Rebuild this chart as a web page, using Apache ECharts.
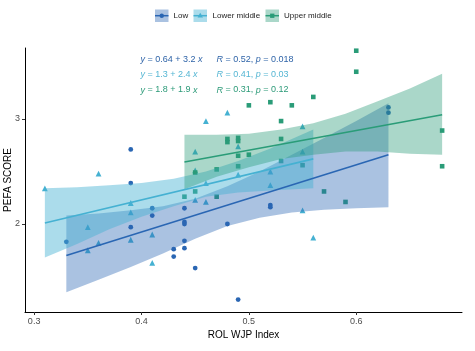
<!DOCTYPE html>
<html><head><meta charset="utf-8">
<script src="https://cdn.jsdelivr.net/npm/echarts@6/dist/echarts.min.js"></script>
<style>html,body{margin:0;padding:0;background:#fff}#c{width:475px;height:351px}</style>
</head><body><div id="c"></div>
<script>
// ---- data ----
const groupNames = ['Low', 'Lower middle', 'Upper middle'];
const xTicks = [0.3, 0.4, 0.5, 0.6];
const xTickLabels = ['0.3', '0.4', '0.5', '0.6'];
const yTicks = [2, 3];
const yTickLabels = ['2', '3'];

const lowPoints = [[0.33,1.83],[0.39,2.71],[0.39,2.39],[0.39,1.97],[0.41,2.15],[0.41,2.08],[0.43,1.76],[0.43,1.69],[0.44,2.15],[0.44,2.02],[0.44,2.00],[0.44,1.84],[0.44,1.77],[0.45,1.58],[0.48,2.00],[0.49,1.28],[0.52,2.18],[0.52,2.16],[0.63,3.11],[0.63,3.06]];
const lowerMiddlePoints = [[0.31,2.34],[0.36,2.48],[0.35,1.97],[0.36,1.82],[0.35,1.75],[0.39,2.20],[0.39,2.11],[0.39,1.85],[0.41,1.90],[0.41,1.63],[0.45,2.69],[0.45,2.51],[0.45,2.23],[0.46,2.98],[0.46,2.39],[0.46,2.21],[0.48,3.06],[0.49,2.74],[0.49,2.47],[0.52,2.50],[0.52,2.37],[0.55,2.93],[0.55,2.69],[0.55,2.13],[0.56,1.87]];
const upperMiddlePoints = [[0.44,2.26],[0.45,2.49],[0.45,2.31],[0.47,2.52],[0.47,2.26],[0.48,2.81],[0.48,2.78],[0.49,2.82],[0.49,2.79],[0.49,2.65],[0.49,2.55],[0.50,3.13],[0.50,2.66],[0.52,3.16],[0.53,2.98],[0.53,2.81],[0.53,2.60],[0.54,3.13],[0.55,2.56],[0.56,3.21],[0.57,2.31],[0.59,2.21],[0.60,3.65],[0.60,3.45],[0.68,2.89],[0.68,2.55]];

// fitted lines (end points)
const lowLine = [[0.33,1.70],[0.63,2.66]];
const lowerMiddleLine = [[0.31,2.01],[0.56,2.62]];
const upperMiddleLine = [[0.44,2.59],[0.68,3.04]];

// confidence bands
const lowBandX = [0.33,0.36,0.39,0.42,0.45,0.48,0.51,0.54,0.57,0.60,0.63];
const lowBandLo = [1.35,1.47,1.59,1.72,1.86,1.98,2.06,2.11,2.135,2.15,2.16];
const lowBandHi = [2.08,2.10,2.13,2.17,2.24,2.36,2.50,2.66,2.82,2.98,3.15];
const lowerMiddleBandX = [0.31,0.34,0.37,0.40,0.43,0.46,0.49,0.52,0.56];
const lowerMiddleBandLo = [1.68,1.81,1.95,2.07,2.17,2.26,2.30,2.32,2.34];
const lowerMiddleBandHi = [2.34,2.35,2.37,2.39,2.43,2.50,2.60,2.72,2.90];
const upperMiddleBandX = [0.44,0.47,0.50,0.53,0.56,0.59,0.62,0.65,0.68];
const upperMiddleBandLo = [2.33,2.45,2.54,2.62,2.66,2.69,2.69,2.67,2.66];
const upperMiddleBandHi = [2.85,2.85,2.86,2.90,2.96,3.05,3.17,3.29,3.43];

const equations = ['{i|y} = 0.64 + 3.2 {i|x}', '{i|y} = 1.3 + 2.4 {i|x}', '{i|y} = 1.8 + 1.9 {i|x}'];
const stats = ['{i|R} = 0.52, {i|p} = 0.018', '{i|R} = 0.41, {i|p} = 0.03', '{i|R} = 0.31, {i|p} = 0.12'];

// ---- styles ----
const lineColors = ['#2a66b3', '#45b1d2', '#2a9c78'];
const bandColors = ['rgba(42,102,179,0.4)', 'rgba(69,177,210,0.45)', 'rgba(42,156,120,0.4)'];
const symbols = ['circle', 'triangle', 'rect'];
const symSizes = [4.8, 5.8, 4.6];
const FONT = '"Liberation Sans", Arial, sans-serif';

function bandSeries(name, xs, lo, hi, fill) {
  const data = xs.map((x, i) => [x, lo[i], hi[i]]);
  return {
    type: 'custom', name: name + ' band', z: 3, silent: true, data,
    encode: { x: 0, y: [1, 2] },
    renderItem(params, api) {
      if (params.dataIndex !== 0) return null;
      const up = data.map(d => api.coord([d[0], d[2]]));
      const dn = data.slice().reverse().map(d => api.coord([d[0], d[1]]));
      return { type: 'polygon', shape: { points: up.concat(dn) }, style: { fill: fill } };
    }
  };
}

const pointSets = [lowPoints, lowerMiddlePoints, upperMiddlePoints];
const lineSets = [lowLine, lowerMiddleLine, upperMiddleLine];
const bands = [
  [lowBandX, lowBandLo, lowBandHi],
  [lowerMiddleBandX, lowerMiddleBandLo, lowerMiddleBandHi],
  [upperMiddleBandX, upperMiddleBandLo, upperMiddleBandHi]
];

const series = [];
groupNames.forEach((g, i) => {
  series.push({
    type: 'scatter', name: g, data: pointSets[i], symbol: symbols[i], symbolSize: symSizes[i],
    itemStyle: { color: lineColors[i], opacity: 1 }, z: 2, silent: true
  });
});
groupNames.forEach((g, i) => {
  series.push(bandSeries(g, bands[i][0], bands[i][1], bands[i][2], bandColors[i]));
  series.push({
    type: 'line', name: g + ' fit', data: lineSets[i], showSymbol: false, symbol: 'none',
    lineStyle: { color: lineColors[i], width: 1.6 }, z: 4, silent: true
  });
});

// legend built as graphic
const legendItems = [];
const legBoxX = [155, 193.5, 265.5];
const legTextX = [173.5, 212.5, 284];
groupNames.forEach((g, i) => {
  const bx = legBoxX[i];
  legendItems.push({ type: 'rect', shape: { x: bx, y: 9.5, width: 13.5, height: 12.5 }, style: { fill: bandColors[i] }, silent: true });
  legendItems.push({ type: 'line', shape: { x1: bx, y1: 15.7, x2: bx + 13.5, y2: 15.7 }, style: { stroke: lineColors[i], lineWidth: 1.5 }, silent: true });
  if (i === 0) legendItems.push({ type: 'circle', shape: { cx: bx + 6.75, cy: 15.7, r: 2.2 }, style: { fill: lineColors[i] }, silent: true });
  if (i === 1) legendItems.push({ type: 'polygon', shape: { points: [[bx + 6.75, 12.8], [bx + 9.5, 17.6], [bx + 4, 17.6]] }, style: { fill: lineColors[i] }, silent: true });
  if (i === 2) legendItems.push({ type: 'rect', shape: { x: bx + 4.6, y: 13.6, width: 4.3, height: 4.3 }, style: { fill: lineColors[i] }, silent: true });
  legendItems.push({ type: 'text', x: legTextX[i], y: 15.7, style: { text: g, font: '8px ' + FONT, fill: '#222', verticalAlign: 'middle' }, silent: true });
});

const annot = [];
const rowY = [59.5, 74.5, 90];
const eqColors = ['#2f64a8', '#55b6d3', '#2c9a78'];
equations.forEach((e, i) => {
  annot.push({ type: 'text', x: 140.5, y: rowY[i], style: { text: e, fontSize: 9, fontFamily: FONT, fill: eqColors[i], verticalAlign: 'middle', rich: { i: { fontStyle: 'italic', fontSize: 9, fontFamily: FONT, fill: eqColors[i] } } }, silent: true });
  annot.push({ type: 'text', x: 216.5, y: rowY[i], style: { text: stats[i], fontSize: 9, fontFamily: FONT, fill: eqColors[i], verticalAlign: 'middle', rich: { i: { fontStyle: 'italic', fontSize: 9, fontFamily: FONT, fill: eqColors[i] } } }, silent: true });
});

const chart = echarts.init(document.getElementById('c'), null, { renderer: 'canvas' });
chart.setOption({
  animation: false,
  backgroundColor: '#fff',
  textStyle: { fontFamily: FONT },
  grid: { left: 25, right: 13, top: 48, bottom: 39, containLabel: false, outerBoundsMode: 'none' },
  xAxis: {
    type: 'value', min: 0.2915, max: 0.6985,
    name: 'ROL WJP Index', nameLocation: 'middle', nameGap: 18, nameMoveOverlap: false,
    nameTextStyle: { fontSize: 10, color: '#000', fontFamily: FONT },
    axisLine: { show: true, onZero: false, lineStyle: { color: '#000', width: 1 } },
    axisTick: { show: true, length: 3, customValues: xTicks, lineStyle: { color: '#333', width: 1 } },
    axisLabel: { customValues: xTicks, formatter: v => xTickLabels[xTicks.indexOf(v)], fontSize: 9, color: '#4d4d4d', margin: 5, fontFamily: FONT },
    splitLine: { show: false }
  },
  yAxis: {
    type: 'value', min: 1.162, max: 3.676,
    name: 'PEFA SCORE', nameLocation: 'middle', nameGap: 12, nameMoveOverlap: false,
    nameTextStyle: { fontSize: 10, color: '#000', fontFamily: FONT },
    axisLine: { show: true, onZero: false, lineStyle: { color: '#000', width: 1 } },
    axisTick: { show: true, length: 3, customValues: yTicks, lineStyle: { color: '#333', width: 1 } },
    axisLabel: { customValues: yTicks, formatter: v => yTickLabels[yTicks.indexOf(v)], fontSize: 9, color: '#4d4d4d', margin: 5, fontFamily: FONT },
    splitLine: { show: false }
  },
  graphic: legendItems.concat(annot),
  series
});
</script>
</body></html>
